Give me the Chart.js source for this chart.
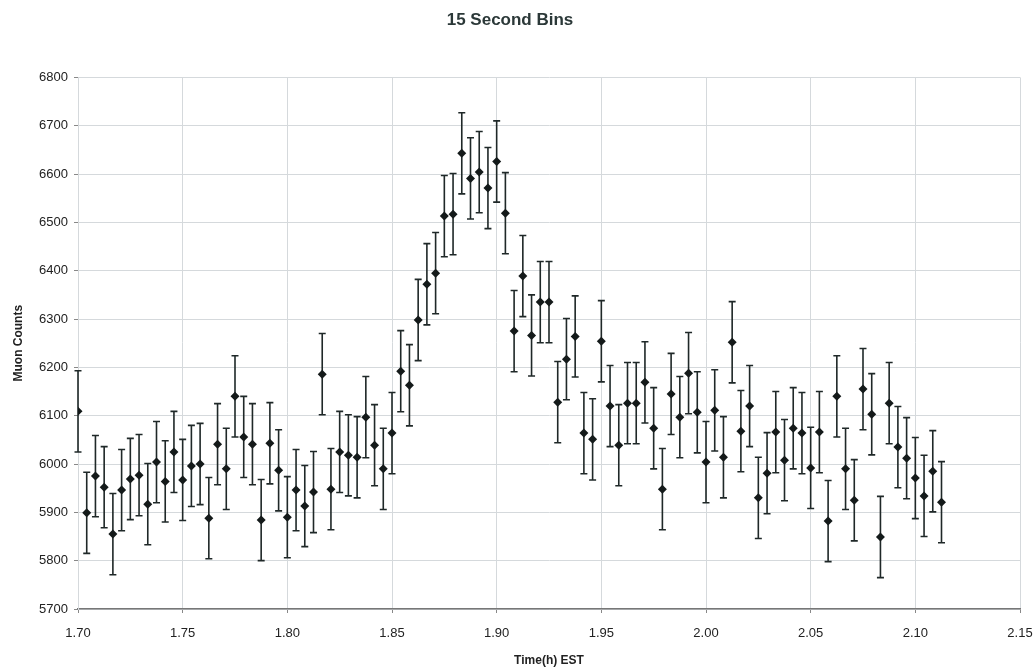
<!DOCTYPE html>
<html>
<head>
<meta charset="utf-8">
<script src="https://cdn.jsdelivr.net/npm/chart.js@4"></script>
<style>
  body { margin: 0; background: #fff; }
</style>
</head>
<body>
<canvas id="muonChart" width="1035" height="668"></canvas>
<script>
// bins start at 1.70 h, one every 15 s
const START_H = 1.70;
const BIN_H = 15 / 3600;
const counts = [
  6109, 5899, 5975, 5952, 5855, 5946, 5969, 5977, 5917, 6004,
  5964, 6025, 5967, 5996, 6000, 5888, 6041, 5990, 6140, 6056,
  6041, 5884, 6043, 5987, 5890, 5946, 5913, 5942, 6186, 5948,
  6025, 6018, 6014, 6097, 6039, 5990, 6064, 6192, 6163, 6298,
  6372, 6395, 6513, 6517, 6643, 6591, 6604, 6571, 6626, 6519,
  6275, 6389, 6266, 6335, 6335, 6128, 6217, 6264, 6064, 6051,
  6254, 6120, 6039, 6126, 6126, 6169, 6074, 5948, 6145, 6097,
  6188, 6107, 6004, 6111, 6014, 6252, 6068, 6120, 5930, 5981,
  6066, 6008, 6074, 6064, 5992, 6066, 5882, 6140, 5990, 5925,
  6155, 6103, 5849, 6126, 6035, 6012, 5971, 5934, 5985, 5921
];
const ERR = 84; // error bar half-height
const xTicks = [1.70, 1.75, 1.80, 1.85, 1.90, 1.95, 2.00, 2.05, 2.10, 2.15];
const yTicks = [5700, 5800, 5900, 6000, 6100, 6200, 6300, 6400, 6500, 6600, 6700, 6800];

const points = counts.map((c, i) => ({ x: START_H + i * BIN_H, y: c }));

// draw vertical error bars with caps under the markers
const errorBars = {
  id: "errorBars",
  beforeDatasetsDraw(chart) {
    const { ctx, scales: { x, y } } = chart;
    const cap = 3.5;
    ctx.save();
    ctx.strokeStyle = "#1f2828";
    ctx.lineWidth = 1.6;
    points.forEach(p => {
      const px = x.getPixelForValue(p.x);
      const top = y.getPixelForValue(p.y + ERR);
      const bot = y.getPixelForValue(p.y - ERR);
      ctx.beginPath();
      ctx.moveTo(px, top); ctx.lineTo(px, bot);
      ctx.moveTo(px - cap, top); ctx.lineTo(px + cap, top);
      ctx.moveTo(px - cap, bot); ctx.lineTo(px + cap, bot);
      ctx.stroke();
    });
    ctx.restore();
  }
};

Chart.defaults.font.family = "'Liberation Sans', Arial, sans-serif";
Chart.defaults.color = "#222";

new Chart(document.getElementById("muonChart"), {
  type: "scatter",
  data: {
    datasets: [{
      label: "Muon Counts",
      data: points,
      pointStyle: "rectRot",
      pointRadius: 4.5,
      pointHoverRadius: 4.5,
      backgroundColor: "#141a1a",
      borderColor: "#141a1a",
      borderWidth: 0
    }]
  },
  plugins: [errorBars],
  options: {
    responsive: false,
    animation: false,
    layout: { padding: { left: 0, right: 15, top: 0, bottom: 0 } },
    plugins: {
      legend: { display: false },
      tooltip: { enabled: false },
      title: {
        display: true,
        text: "15 Second Bins",
        color: "#2b3838",
        font: { size: 17, weight: "bold" },
        padding: { top: 10, bottom: 47 }
      }
    },
    scales: {
      x: {
        type: "linear",
        min: 1.70,
        max: 2.15,
        afterBuildTicks: s => { s.ticks = xTicks.map(v => ({ value: v })); },
        afterFit: s => { s.height = 59; s.paddingLeft = 0; s.paddingRight = 0; },
        ticks: {
          callback: v => v.toFixed(2),
          font: { size: 13 },
          maxRotation: 0,
          padding: 13
        },
        grid: { color: "#d5d9dc", tickLength: 4, tickColor: "#888" },
        border: { color: "#777", width: 1.5 },
        title: {
          display: true,
          text: "Time(h) EST",
          font: { size: 12, weight: "bold" },
          padding: { top: 0, bottom: 0 }
        }
      },
      y: {
        min: 5700,
        max: 6800,
        afterBuildTicks: s => { s.ticks = yTicks.map(v => ({ value: v })); },
        afterFit: s => { s.width = 78; },
        ticks: { callback: v => String(v), font: { size: 13 }, padding: 6 },
        grid: { color: "#d5d9dc", tickLength: 4, tickColor: "#888" },
        border: { color: "#d5d9dc" },
        title: {
          display: true,
          text: "Muon Counts",
          font: { size: 12, weight: "bold" },
          padding: { top: 11, bottom: 0 }
        }
      }
    }
  }
});
</script>
</body>
</html>
